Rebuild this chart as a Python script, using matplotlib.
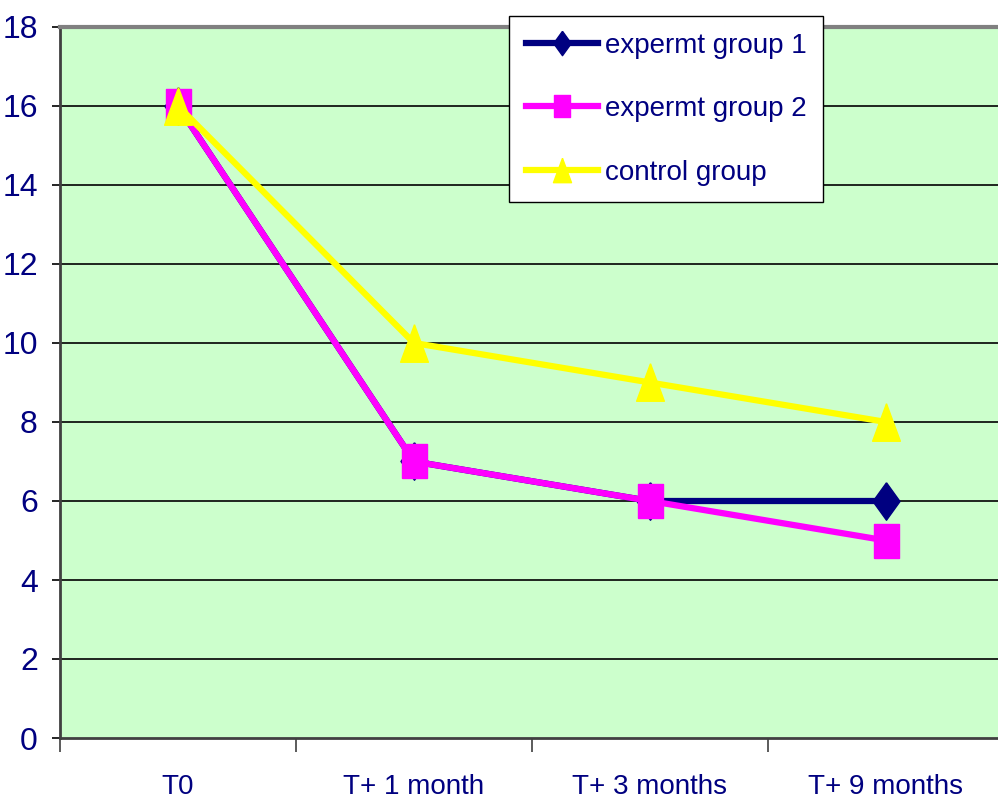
import matplotlib
matplotlib.use("Agg")
import matplotlib.pyplot as plt

categories = ["T0", "T+ 1 month", "T+ 3 months", "T+ 9 months"]
group1 = [16, 7, 6, 6]
group2 = [16, 7, 6, 5]
control = [16, 10, 9, 8]

plt.rcParams['font.family'] = ['Liberation Sans', 'DejaVu Sans']

navy = "#000080"

# tall, narrow marker shapes
diamond = [(0, 0.5), (0.36, 0), (0, -0.5), (-0.36, 0), (0, 0.5)]
rect = [(-0.36, -0.5), (0.36, -0.5), (0.36, 0.5), (-0.36, 0.5), (-0.36, -0.5)]
tri = [(0, 0.5), (0.37, -0.5), (-0.37, -0.5), (0, 0.5)]

fig = plt.figure(figsize=(9.98, 8.06), dpi=100)
W, H = 998, 806
# plot area runs a little past the right edge of the figure
ax = fig.add_axes([60 / W, (H - 738) / H, 944 / W, (738 - 27) / H])
ax.set_facecolor("#CCFFCC")

x = [i + 0.5 for i in range(len(categories))]
ax.plot(x, group1, color=navy, lw=4.5, marker=diamond, ms=27, label="expermt group 1", zorder=3)
ax.plot(x, group2, color="#FF00FF", lw=4.5, marker=rect, ms=25, label="expermt group 2", zorder=4)
ax.plot(x, control, color="#FFFF00", lw=4.5, marker=tri, ms=27, label="control group", zorder=5)

ax.set_xlim(0, 4)
ax.set_ylim(0, 18)
ax.set_yticks(range(0, 19, 2))
for v in range(2, 18, 2):
    ax.axhline(v, color="black", lw=1.2, zorder=1)

# category boundaries get the tick marks, names sit in between
ax.set_xticks(range(0, 5))
ax.set_xticklabels([])
ax.set_xticks(x, minor=True)
ax.set_xticklabels(categories, minor=True)
ax.tick_params(axis="x", which="major", length=10, width=1.2, color="#404040", direction="out")
ax.tick_params(axis="x", which="minor", length=0, pad=26, labelsize=20, labelcolor=navy)
ax.tick_params(axis="y", length=6, width=1.2, color="black", pad=10, labelsize=23, labelcolor=navy)

ax.spines["top"].set_color("#808080")
ax.spines["top"].set_linewidth(3)
ax.spines["right"].set_visible(False)
ax.spines["left"].set_color("#404040")
ax.spines["left"].set_linewidth(2)
ax.spines["bottom"].set_color("#404040")
ax.spines["bottom"].set_linewidth(2)

leg = fig.legend(loc="upper left", bbox_to_anchor=(509 / W, 1 - 16 / H),
                 fontsize=20, labelcolor=navy, fancybox=False, framealpha=1,
                 edgecolor="black", handlelength=2.6, handletextpad=0.25,
                 labelspacing=1.35, borderpad=0.6, borderaxespad=0,
                 markerscale=0.65)
leg.get_frame().set_linewidth(1.0)
leg.set_zorder(10)

fig.savefig("out.png", dpi=100)
